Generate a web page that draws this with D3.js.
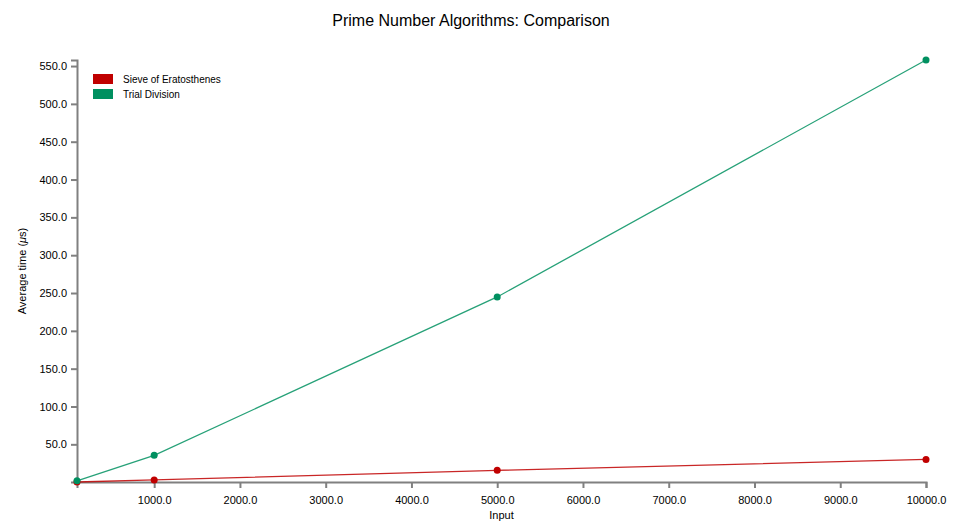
<!DOCTYPE html>
<html>
<head>
<meta charset="utf-8">
<script src="https://cdn.jsdelivr.net/npm/d3@7"></script>
<style>
  body { margin: 0; background: #fff; font-family: "Liberation Sans", Arial, sans-serif; }
  .axis path, .axis line { stroke: #808080; stroke-width: 2; }
  .axis text { font-size: 11px; fill: #000; }
</style>
</head>
<body>
<svg width="955" height="526"></svg>
<script>
const inputs = [100, 1000, 5000, 10000];
const sieveTimes = [0.2, 2.9, 15.6, 30.0];
const trialTimes = [1.8, 35.4, 244.8, 558.0];
const seriesNames = ['Sieve of Eratosthenes', 'Trial Division'];
const seriesColors = ['#c00000', '#009060'];

const margin = { top: 60, right: 29, bottom: 44, left: 77 };
const width = 955 - margin.left - margin.right;
const height = 526 - margin.top - margin.bottom;

const series = [sieveTimes, trialTimes].map((vals, i) => ({
  name: seriesNames[i],
  color: seriesColors[i],
  points: inputs.map((x, j) => ({ x, y: vals[j] })),
}));

const svg = d3.select('svg');
const g = svg.append('g').attr('transform', `translate(${margin.left},${margin.top})`);

const x = d3.scaleLinear().domain(d3.extent(inputs)).range([0, width]);
const y = d3.scaleLinear()
  .domain(d3.extent(sieveTimes.concat(trialTimes)))
  .range([height, 0]);

g.append('g')
  .attr('class', 'axis')
  .attr('transform', `translate(0,${height})`)
  .call(d3.axisBottom(x).tickSize(6).tickPadding(8).tickFormat(d3.format('.1f')));

g.append('g')
  .attr('class', 'axis')
  .call(d3.axisLeft(y).tickSize(6).tickPadding(4).tickFormat(d3.format('.1f')));

g.selectAll('.domain').attr('fill', 'none');

const line = d3.line().x((d) => x(d.x)).y((d) => y(d.y));

series.forEach((s) => {
  g.append('path')
    .datum(s.points)
    .attr('fill', 'none')
    .attr('stroke', s.color)
    .attr('stroke-opacity', 0.85)
    .attr('stroke-width', 1.3)
    .attr('d', line);

  g.selectAll(null)
    .data(s.points)
    .join('circle')
    .attr('cx', (d) => x(d.x))
    .attr('cy', (d) => y(d.y))
    .attr('r', 3.5)
    .attr('fill', s.color);
});

// legend
const legend = g.append('g').attr('transform', 'translate(16,14)');
series.forEach((s, i) => {
  legend.append('rect')
    .attr('x', 0)
    .attr('y', i * 15)
    .attr('width', 20)
    .attr('height', 10)
    .attr('fill', s.color);
  legend.append('text')
    .attr('x', 30)
    .attr('y', i * 15 + 5)
    .attr('dominant-baseline', 'central')
    .style('font-size', '10px')
    .text(s.name);
});

svg.append('text')
  .attr('x', 471)
  .attr('y', 26)
  .attr('text-anchor', 'middle')
  .style('font-size', '16px')
  .text('Prime Number Algorithms: Comparison');

svg.append('text')
  .attr('x', margin.left + width / 2)
  .attr('y', 519)
  .attr('text-anchor', 'middle')
  .style('font-size', '11px')
  .text('Input');

const yLabel = svg.append('text')
  .attr('transform', `translate(26,${margin.top + height / 2}) rotate(-90)`)
  .attr('text-anchor', 'middle')
  .style('font-size', '11px');
yLabel.append('tspan').text('Average time (');
yLabel.append('tspan').style('font-style', 'italic').text('μ');
yLabel.append('tspan').text('s)');
</script>
</body>
</html>
